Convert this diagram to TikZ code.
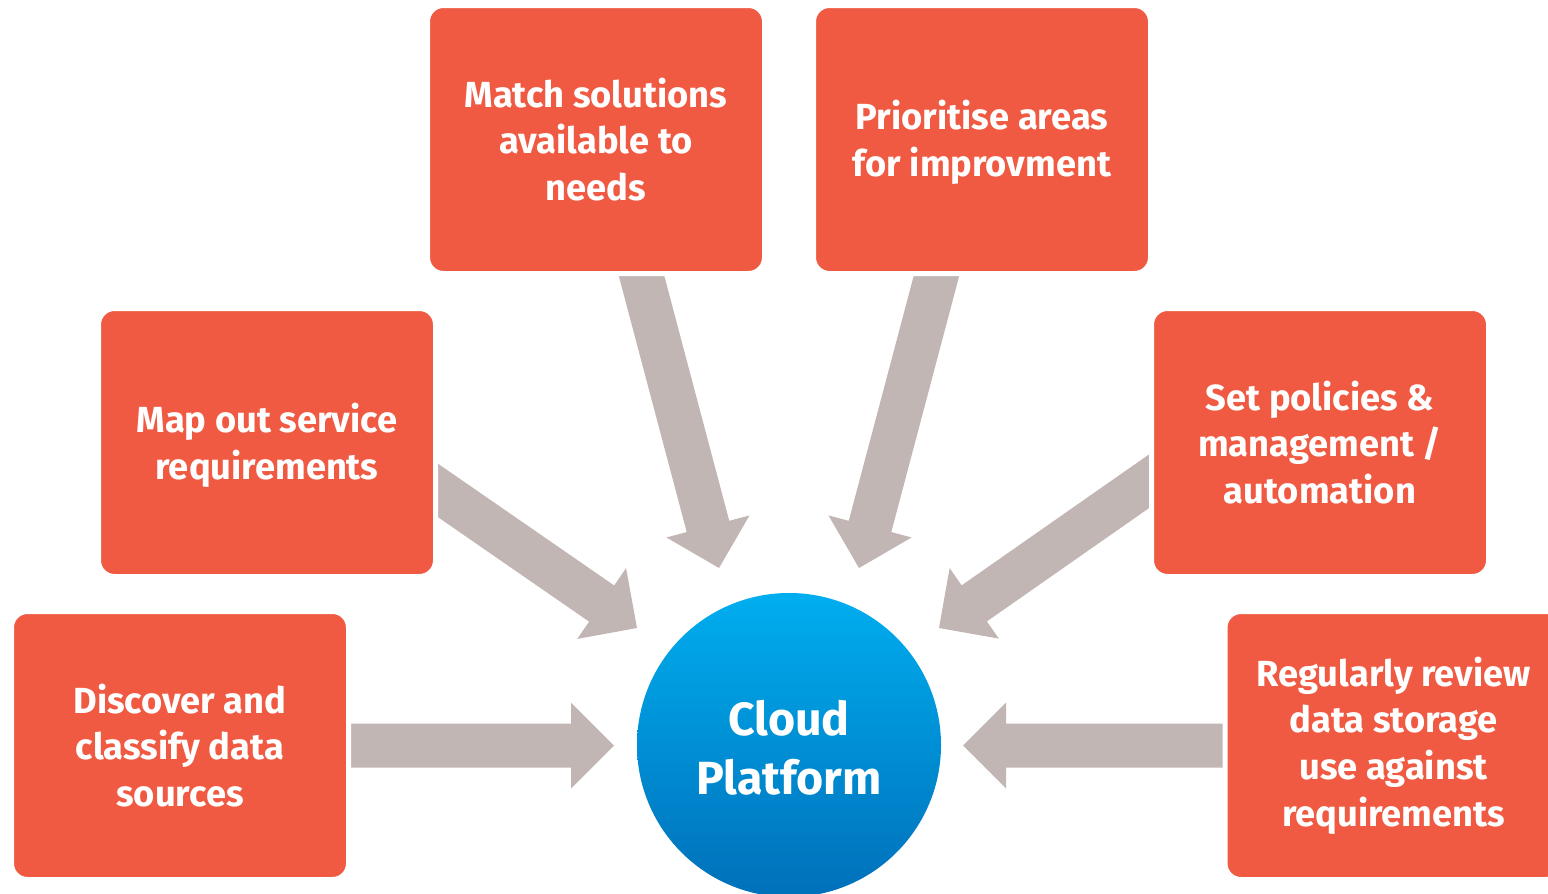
\documentclass[tikz,border=0pt]{standalone}
\usepackage{fontspec}
\setmainfont{Fira Sans}
\usetikzlibrary{calc}
\definecolor{boxred}{HTML}{F05A42}
\definecolor{arrowgray}{HTML}{C1B6B3}
\definecolor{cloudtop}{HTML}{00AEEF}
\definecolor{cloudbot}{HTML}{0070BA}
\tikzset{
  stepbox/.style={rectangle, rounded corners=16pt, fill=boxred, draw=white, line width=5pt,
    minimum width=337pt, minimum height=268pt, inner sep=0pt, align=center, text=white,
    font=\bfseries\fontsize{36.3}{46.7}\selectfont},
  hub/.style={circle, minimum size=304pt, inner sep=0pt, top color=cloudtop, bottom color=cloudbot,
    align=center, text=white, font=\bfseries\fontsize{46.5}{59}\selectfont},
}
\newcommand\blockarr[2]{%
  \coordinate (bS) at (#1);
  \coordinate (bT) at (#2);
  \coordinate (bB) at ($(bT)!43pt!(bS)$);
  \fill[arrowgray] ($(bS)!22pt!90:(bT)$) -- ($(bB)!22pt!90:(bT)$) -- ($(bB)!43pt!90:(bT)$) -- (bT)
    -- ($(bB)!43pt!-90:(bT)$) -- ($(bB)!22pt!-90:(bT)$) -- ($(bS)!22pt!-90:(bT)$) -- cycle;
}
\newcommand\lift{\rule{0pt}{35pt}}
\begin{document}
\begin{tikzpicture}[x=1pt,y=-1pt]
\useasboundingbox (0,0) rectangle (1548,894);
\clip (0,0) rectangle (1548,894);
% arrow ends
\coordinate (s1) at (636,255);  \coordinate (t1) at (719,568);
\coordinate (s2) at (942,255);  \coordinate (t2) at (859,568);
\coordinate (s3) at (420,478);  \coordinate (t3) at (637,628);
\coordinate (s4) at (1168,468); \coordinate (t4) at (939,628);
\coordinate (s5) at (330,745.5);  \coordinate (t5) at (614,745.5);
\coordinate (s6) at (1245,745.5); \coordinate (t6) at (963,745.5);
\blockarr{s1}{t1}
\blockarr{s2}{t2}
\blockarr{s3}{t3}
\blockarr{s4}{t4}
\blockarr{s5}{t5}
\blockarr{s6}{t6}
% boxes
\node[stepbox] (match) at (596,139.5) {Match solutions\\available to\\needs};
\node[stepbox] (prio) at (982,139.5) {\lift Prioritise areas\\for improvment};
\node[stepbox] (map) at (267,442.5) {\lift Map out service\\requirements};
\node[stepbox] (policy) at (1320,442.5) {Set policies \&\\management /\\automation};
\node[stepbox] (disc) at (180,745.5) {Discover and\\classify data\\sources};
\node[stepbox] (review) at (1393.5,745.5) {Regularly review\\data storage\\use against\\requirements};
% hub
\node[hub] (cloud) at (789,745) {\rule{0pt}{40pt}Cloud\\Platform};
\end{tikzpicture}
\end{document}
